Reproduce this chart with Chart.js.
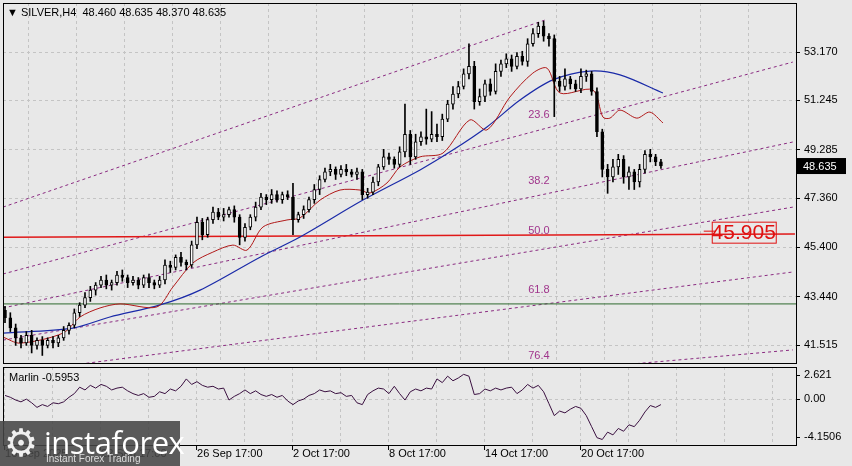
<!DOCTYPE html>
<html>
<head>
<meta charset="utf-8">
<script src="https://cdn.jsdelivr.net/npm/chart.js@4.4.1/dist/chart.umd.min.js"></script>
<style>
  body { margin: 0; background: #e8e8e8; font-family: "Liberation Sans", Arial, sans-serif; }
  #wrap { position: relative; width: 852px; height: 466px; overflow: hidden; background: #e8e8e8; }
  canvas { position: absolute; left: 0; }
  #main { top: 0; }
  #ind { top: 366px; }
  #logo { position: absolute; left: 0; top: 421px; width: 180px; height: 45px; background: rgba(70,70,70,0.88); color: #fff; }
  #logo .g { position: absolute; left: 4px; top: 0px; font-size: 38px; font-family: "DejaVu Sans"; color: #f0f0f0; }
  #logo .t { position: absolute; left: 44px; top: 0px; font-size: 31px; font-family: "Open Sans", sans-serif; letter-spacing: -0.5px; }
  #logo .s { position: absolute; left: 46px; top: 32px; font-size: 10px; color: #ddd; }
</style>
</head>
<body>
<div id="wrap">
  <canvas id="main" width="852" height="366"></canvas>
  <canvas id="ind" width="852" height="100"></canvas>
  <div id="logo"><span class="g">⚙</span><span class="t">instaforex</span><span class="s">Instant Forex Trading</span></div>
</div>
<script>
// --- data (4h candles, every second bar shown) ---
const closes = [42.6,42.2,41.8,41.6,41.9,41.5,41.7,41.5,41.7,41.6,
  41.8,42.1,42.3,42.8,43.1,43.4,43.7,43.9,44.1,43.9,
  44.0,44.3,44.2,44.0,44.1,43.9,44.2,44.0,43.9,44.1,
  44.7,44.6,45.0,44.8,44.7,45.5,46.4,45.9,46.5,46.8,
  46.6,46.7,46.9,46.6,45.8,46.2,46.6,47.0,47.4,47.3,
  47.5,47.3,47.5,47.4,46.5,46.7,46.9,47.3,47.7,48.1,
  48.4,48.5,48.3,48.5,48.4,48.3,48.4,47.5,47.6,48.0,
  48.6,49.0,48.9,48.7,49.2,49.9,49.0,49.6,49.8,49.7,
  49.9,49.8,50.5,51.1,51.5,51.8,52.3,52.6,51.2,51.4,
  51.9,51.6,52.4,52.7,52.9,52.6,53.0,52.8,53.5,53.9,
  54.2,53.8,53.7,52.0,51.8,52.1,51.9,51.7,52.2,52.3,
  51.6,50.0,48.5,48.2,48.6,48.9,48.2,48.4,48.0,48.5,
  49.1,49.0,48.8,48.635];
const firstOpen = 42.9;
const wickUp = [0.15,0.2,0.15,0.1,0.15,0.2,0.1,0.15,0.1,0.15,
  0.1,0.15,0.1,0.15,0.1,0.2,0.15,0.1,0.15,0.2,
  0.1,0.15,0.2,0.1,0.15,0.1,0.1,0.15,0.1,0.15,
  0.2,0.15,0.1,0.2,0.1,0.15,0.2,0.15,0.1,0.2,
  0.15,0.25,0.1,0.15,0.1,0.15,0.1,0.2,0.15,0.1,
  0.2,0.15,0.1,0.15,0.55,0.1,0.15,0.1,0.2,0.15,
  0.15,0.2,0.1,0.15,0.2,0.1,0.15,0.1,0.15,0.2,
  0.1,0.3,0.15,0.1,0.2,1.2,0.15,0.3,0.2,1.1,
  0.9,0.4,0.2,0.15,0.3,0.2,0.2,0.9,0.2,0.3,
  0.15,0.2,0.3,0.15,0.2,0.15,0.15,0.2,0.2,0.2,
  0.15,0.2,0.1,0.15,0.2,0.4,0.1,0.15,0.3,0.15,
  0.1,0.15,0.1,0.2,0.3,0.2,0.15,0.2,0.1,0.2,
  0.15,0.2,0.1,0.1];
const wickDn = [0.2,0.15,0.3,0.2,0.1,0.3,0.15,0.4,0.1,0.2,
  0.15,0.1,0.15,0.1,0.15,0.1,0.15,0.2,0.1,0.15,
  0.2,0.1,0.15,0.2,0.1,0.15,0.1,0.2,0.15,0.1,
  0.15,0.2,0.1,0.15,0.2,0.1,0.15,0.2,0.1,0.15,
  0.1,0.15,0.1,0.2,0.3,0.15,0.1,0.15,0.1,0.2,
  0.15,0.1,0.15,0.1,0.6,0.1,0.15,0.1,0.15,0.2,
  0.1,0.15,0.2,0.1,0.15,0.1,0.2,0.2,0.15,0.1,
  0.15,0.1,0.2,0.15,0.1,0.2,0.3,0.1,0.15,0.2,
  0.1,0.2,0.15,0.1,0.2,0.15,0.1,0.2,0.3,0.15,
  0.2,0.15,0.1,0.2,0.15,0.2,0.1,0.15,0.2,0.1,
  0.15,0.2,0.3,1.4,0.2,0.15,0.2,0.1,0.15,0.2,
  0.15,0.2,0.3,0.65,0.2,0.3,0.25,0.5,0.3,0.2,
  0.15,0.2,0.15,0.1];
const marlin = [0.4,0.2,-0.1,-0.3,0.0,-0.4,-0.9,-0.6,-0.8,-0.4,
  -0.5,-0.3,0.2,0.6,1.3,1.0,1.5,1.2,1.6,1.4,
  1.0,1.2,1.3,0.9,0.6,0.4,0.6,0.2,0.3,0.8,
  0.6,1.1,0.9,1.4,2.2,1.6,1.9,1.5,1.3,1.4,
  1.1,1.2,-0.1,0.3,0.6,1.0,0.6,0.9,0.5,0.3,
  0.5,0.2,0.4,-0.2,-0.6,-0.2,0.0,0.4,0.6,1.0,
  0.8,0.9,0.6,0.7,0.3,0.4,-0.4,-0.6,0.5,0.9,
  1.2,1.1,0.6,1.4,0.6,-0.1,0.8,1.1,0.9,1.2,
  1.1,2.2,1.8,2.5,2.0,2.3,2.7,2.5,0.5,0.6,
  1.1,0.9,1.2,1.0,1.2,1.3,0.6,1.0,1.6,1.2,
  1.5,0.8,-0.5,-1.8,-1.3,-1.5,-1.1,-0.8,-1.0,-1.8,
  -3.0,-4.2,-4.4,-3.6,-3.9,-3.2,-3.5,-2.8,-3.0,-2.3,
  -1.4,-0.7,-0.9,-0.6];
// moving averages: [bar index, price]
const fastMA = [[0,41.83],[6.4,41.59],[22.5,41.99],[28.9,42.63],[36.4,42.99],[43.9,43.15],[57.7,43.03],
  [63.7,43.82],[71.2,44.78],[78.7,45.21],[86.2,45.49],[91.5,45.29],[97.5,46.21],[106.5,46.49],[111.4,46.57],
  [118.9,47.28],[126.4,47.68],[133.9,47.68],[137.6,47.56],[144,47.96],[148.9,48.6],[156.4,49.0],[165,49.15],
  [175.1,50.47],[181.5,50.07],[190.1,51.38],[198.7,52.33],[204,52.53],[208.9,51.54],[221.2,51.66],
  [225,50.58],[227.6,50.54],[231.4,50.86],[237.7,50.54],[242.6,50.78],[247.5,50.35]];
const slowMA = [[0,41.99],[26.2,42.19],[40.1,42.63],[58.9,43.11],[73.9,43.7],[96.4,45.01],[111.4,45.81],
  [135,47.28],[156.4,48.48],[168.7,49.27],[181.5,50.19],[193.9,51.26],[206.2,52.06],[220.1,52.41],
  [231.4,52.26],[247.5,51.54]];
// fan lines: start / end [bar index, price]
const fanLines = [
  [[0,47.0],[203.2,54.44]],
  [[0,44.34],[296.2,52.77]],
  [[0,42.99],[296.2,49.59]],
  [[0,41.71],[296.2,47.0]],
  [[0,40.36],[296.2,44.42]],
  [[0,38.57],[296.2,41.32]]
];
const fibLabels = ['23.6','38.2','50.0','61.8','76.4'];
const fibPrices = [50.66,48.04,46.05,43.70,41.08];
const supportLevel = 45.905;
const redLine = [[0,45.80],[297,45.93]];
const greenLevel = 43.15;
const priceTicks = [53.170,51.245,49.285,47.360,45.400,43.440,41.515];
const marlinTicks = [2.621,0,-4.1506];
const gridBars = [0.4,18.4,36.4,54.4,72.4,90.4,108.4,126.4,144.4,162.4,180.4,198.4,216.4,234.4,252.4,270.4,288.4];
const timeLabels = ['16 Sep 2025','22 Sep 17:00','26 Sep 17:00','2 Oct 17:00','8 Oct 17:00','14 Oct 17:00','20 Oct 17:00'];
const timeBars = [0.4,36.4,72.4,108.4,144.4,180.4,216.4];
const lastPrice = 48.635;

const X_MAX = 297.4;
const gridDash = '#c4c4c4';
const bodies = [], wicks = [], bodyFill = [];
closes.forEach((c, k) => {
  const o = k === 0 ? firstOpen : closes[k - 1];
  const x = 2 * k + 0.75;
  bodies.push({ x: x, y: [o, c === o ? c + 0.02 : c] });
  wicks.push({ x: x, y: [Math.min(o, c) - wickDn[k], Math.max(o, c) + wickUp[k]] });
  bodyFill.push(c >= o ? '#ffffff' : '#000000');
});
const pts = arr => arr.map(p => ({ x: p[0], y: p[1] }));

const frame = {
  id: 'frame',
  afterDraw(chart) {
    const a = chart.chartArea, ctx = chart.ctx;
    ctx.save();
    ctx.strokeStyle = '#000'; ctx.lineWidth = 1;
    ctx.strokeRect(a.left + 0.5, a.top + 0.5, a.right - a.left, a.bottom - a.top);
    ctx.restore();
  }
};

const xScale = {
  type: 'linear', min: 0, max: X_MAX, offset: false,
  afterBuildTicks: s => { s.ticks = gridBars.map(v => ({ value: v })); },
  afterFit: s => { s.height = 0; s.paddingLeft = 0; s.paddingRight = 0; },
  ticks: { display: false },
  grid: { color: gridDash, drawTicks: false },
  border: { display: false, dash: [3, 3] }
};

const fitY = s => { s.width = 56; s.paddingTop = 0; s.paddingBottom = 0; };

const overlay = {
  id: 'overlay',
  afterDraw(chart) {
    const ctx = chart.ctx, xs = chart.scales.x, ys = chart.scales.y;
    ctx.save();
    ctx.font = '11px "Liberation Sans", Arial';
    ctx.fillStyle = '#000';
    ctx.textBaseline = 'middle';
    ctx.fillText('▼ SILVER,H4  48.460 48.635 48.370 48.635', 7, 13);
    ctx.fillStyle = '#a0358c';
    ctx.textAlign = 'center';
    fibLabels.forEach((t, i) => ctx.fillText(t, xs.getPixelForValue(201), ys.getPixelForValue(fibPrices[i])));
    // support level tag
    const sy = ys.getPixelForValue(supportLevel) - 2;
    const bx = xs.getPixelForValue(265.8), bw = xs.getPixelForValue(289.8) - bx;
    ctx.strokeStyle = '#e01010'; ctx.lineWidth = 1;
    ctx.strokeRect(bx + 0.5, sy - 10.5, bw, 21);
    ctx.beginPath(); ctx.moveTo(bx - 8, sy - 1.5); ctx.lineTo(bx + 4, sy - 1.5); ctx.stroke();
    ctx.fillStyle = '#e01010';
    ctx.font = '21px "Liberation Sans", Arial';
    ctx.fillText('45.905', bx + bw / 2, sy + 1);
    // last price tag
    const py = ys.getPixelForValue(lastPrice);
    ctx.fillStyle = '#000';
    ctx.fillRect(797, py - 8, 49, 16);
    ctx.fillStyle = '#fff';
    ctx.font = '11px "Liberation Sans", Arial';
    ctx.textAlign = 'left';
    ctx.fillText('48.635', 803, py + 1);
    ctx.restore();
  }
};

const fanSets = fanLines.map(l => ({
  type: 'line', data: pts(l), borderColor: '#8a2a80', borderWidth: 1, borderDash: [3, 3],
  pointRadius: 0, order: 4
}));

new Chart(document.getElementById('main'), {
  type: 'bar',
  data: {
    datasets: [
      { data: bodies, backgroundColor: bodyFill, borderColor: '#000', borderWidth: 1, borderSkipped: false,
        barThickness: 3, grouped: false, order: 0 },
      { data: wicks, backgroundColor: '#000', borderWidth: 0, barThickness: 1, grouped: false, order: 1 },
      { type: 'line', data: pts(fastMA), borderColor: '#b01818', borderWidth: 1, pointRadius: 0, tension: 0.3, order: 2 },
      { type: 'line', data: pts(slowMA), borderColor: '#1a2aa8', borderWidth: 1.2, pointRadius: 0, tension: 0.3, order: 2 },
      { type: 'line', data: pts(redLine), borderColor: '#e01818', borderWidth: 1.4, pointRadius: 0, order: 3 },
      { type: 'line', data: [{ x: 0, y: greenLevel }, { x: X_MAX, y: greenLevel }], borderColor: '#2e6a2e', borderWidth: 1, pointRadius: 0, order: 3 },
      ...fanSets
    ]
  },
  options: {
    responsive: false, animation: false, devicePixelRatio: 1,
    layout: { padding: { left: 3, top: 3, right: 0, bottom: 3 } },
    plugins: { legend: { display: false }, tooltip: { enabled: false } },
    scales: {
      x: xScale,
      y: {
        position: 'right', min: 40.8, max: 55.12,
        afterBuildTicks: s => { s.ticks = priceTicks.map(v => ({ value: v })); },
        afterFit: fitY,
        ticks: { color: '#000', font: { size: 11, family: '"Liberation Sans", Arial' }, padding: 4,
          callback: v => v.toFixed(3) },
        grid: { color: gridDash, tickColor: '#000', tickLength: 4, tickBorderDash: [] },
        border: { display: false, dash: [3, 3] }
      }
    }
  },
  plugins: [frame, overlay]
});

const indOverlay = {
  id: 'indOverlay',
  afterDraw(chart) {
    const ctx = chart.ctx, xs = chart.scales.x;
    ctx.save();
    ctx.font = '11px "Liberation Sans", Arial';
    ctx.fillStyle = '#000';
    ctx.textBaseline = 'middle';
    ctx.fillText('Marlin -0.5953', 9, 12);
    ctx.textBaseline = 'alphabetic';
    timeLabels.forEach((t, i) => {
      const x = xs.getPixelForValue(timeBars[i]);
      ctx.fillText(t, x + 1, 91);
      ctx.beginPath(); ctx.moveTo(x + 0.5, 80); ctx.lineTo(x + 0.5, 84); ctx.stroke();
    });
    ctx.restore();
  }
};

new Chart(document.getElementById('ind'), {
  type: 'line',
  data: {
    datasets: [
      { data: marlin.map((v, k) => ({ x: 2 * k + 0.75, y: v })), borderColor: '#3a1040', borderWidth: 1, pointRadius: 0 }
    ]
  },
  options: {
    responsive: false, animation: false, devicePixelRatio: 1,
    layout: { padding: { left: 3, top: 1, right: 0, bottom: 21 } },
    plugins: { legend: { display: false }, tooltip: { enabled: false } },
    scales: {
      x: xScale,
      y: {
        position: 'right', min: -5.0, max: 3.5,
        afterBuildTicks: s => { s.ticks = marlinTicks.map(v => ({ value: v })); },
        afterFit: fitY,
        ticks: { color: '#000', font: { size: 11, family: '"Liberation Sans", Arial' }, padding: 4,
          callback: v => v === 0 ? '0.00' : String(v) },
        grid: { color: c => c.tick && c.tick.value === 0 ? gridDash : 'rgba(0,0,0,0)', tickColor: '#000', tickLength: 4, tickBorderDash: [] },
        border: { display: false, dash: [3, 3] }
      }
    }
  },
  plugins: [frame, indOverlay]
});
</script>
</body>
</html>
